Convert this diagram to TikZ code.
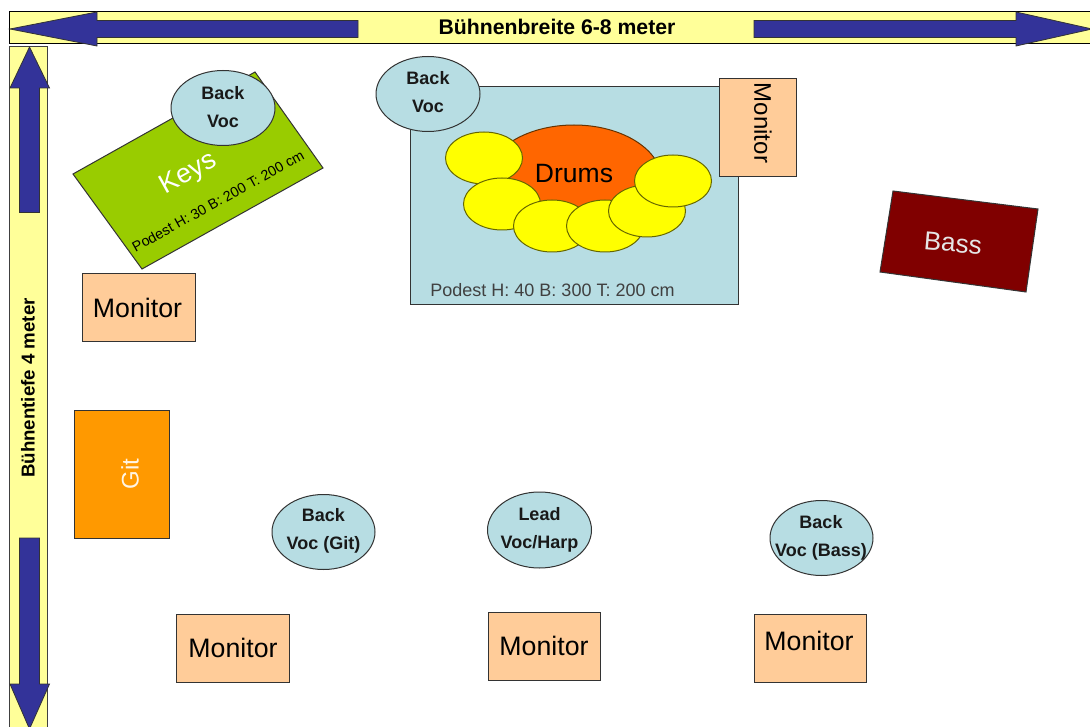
\documentclass[tikz,border=0pt]{standalone}
\usepackage{fontspec}
\setmainfont{Liberation Sans}
\definecolor{barY}{HTML}{FFFF99}
\definecolor{arrowB}{HTML}{333399}
\definecolor{voc}{HTML}{B7DDE3}
\definecolor{mon}{HTML}{FFCC99}
\definecolor{keysG}{HTML}{99CC00}
\definecolor{drumO}{HTML}{FF6600}
\definecolor{gitO}{HTML}{FF9900}
\definecolor{bassR}{HTML}{800000}
\definecolor{edgeD}{HTML}{333333}
\definecolor{cymY}{HTML}{FFFF00}
\definecolor{cymE}{HTML}{666600}
\definecolor{drumE}{HTML}{663300}
\newcommand{\fs}[1]{\fontsize{#1}{#1}\selectfont}
\tikzset{
  x=1pt,y=-1pt,
  barbox/.style={draw=black,fill=barY,line width=1pt},
  arr/.style={draw=edgeD,fill=arrowB,line width=0.8pt},
  outline/.style={draw=edgeD,line width=1pt},
  monbox/.style={outline,fill=mon,rectangle,inner sep=0pt},
  montxt/.style={inner sep=0pt,font=\fs{26.7}},
  vocell/.style={outline,fill=voc,ellipse,inner sep=0pt},
  voctxt/.style={inner sep=0pt,align=center,font=\fs{18}\bfseries,text=black!90},
  cym/.style={draw=cymE,line width=1pt,fill=cymY,ellipse,minimum width=77pt,minimum height=52pt,inner sep=0pt},
  lbl/.style={inner sep=0pt},
}
\usetikzlibrary{shapes.geometric}
\begin{document}
\begin{tikzpicture}
\useasboundingbox (0,0) rectangle (1090,727);
\fill[white] (0,0) rectangle (1090,727);
% bars
\draw[barbox] (9.5,12) rectangle (1091,44);
\draw[barbox,draw=black!75] (9.5,46.5) rectangle (47,728);
% top arrows
\draw[arr] (10,29) -- (97,12) -- (97,20.5) -- (358,20.5) -- (358,37.5) -- (97,37.5) -- (97,46) -- cycle;
\draw[arr] (1092,29) -- (1016,12) -- (1016,20.5) -- (754,20.5) -- (754,37.5) -- (1016,37.5) -- (1016,46) -- cycle;
% side arrows
\draw[arr] (29.5,47) -- (49.5,88) -- (39.5,88) -- (39.5,212.5) -- (19.5,212.5) -- (19.5,88) -- (10,88) -- cycle;
\draw[arr] (29.5,729) -- (49.5,684) -- (39.5,684) -- (39.5,538) -- (19.5,538) -- (19.5,684) -- (10,684) -- cycle;
\node[lbl,font=\fs{21.2}\bfseries] (breite) at (557,27) {Bühnenbreite 6-8 meter};
\node[lbl,font=\fs{18.7}\bfseries,rotate=90] (tiefe) at (28,388) {Bühnentiefe 4 meter};
% keys
\draw[outline,fill=keysG] (255,72) -- (323,168) -- (142,269) -- (73,174) -- cycle;
\node[lbl,font=\fs{27},text=white,rotate=29] (keys) at (189,174) {Keys};
\node[lbl,font=\fs{14.3},rotate=29] (podK) at (218,201) {Podest H: 30 B: 200 T: 200 cm};
\node[vocell,minimum width=104pt,minimum height=75pt] (bv1) at (223,108) {};
\node[voctxt] (bv1t) at (223,107) {Back\\[10pt]Voc};
% drums
\draw[outline,fill=voc] (410.5,86.5) rectangle (738,305);
\node[vocell,minimum width=104pt,minimum height=75pt] (bv2) at (428,94) {};
\node[voctxt] (bv2t) at (428,92) {Back\\[10pt]Voc};
\node[monbox,minimum width=77pt,minimum height=98pt] (m1) at (757.5,128) {};
\node[lbl,font=\fs{24},rotate=-90] (m1t) at (763,123) {Monitor};
\node[ellipse,draw=drumE,line width=1pt,fill=drumO,minimum width=176pt,minimum height=112pt,inner sep=0pt] (drumshell) at (574,181) {};
\node[lbl,font=\fs{26.5}] (drums) at (574,174) {Drums};
\node[cym] (c1) at (484,158) {};
\node[cym] (c2) at (502,204) {};
\node[cym] (c3) at (552,226) {};
\node[cym] (c4) at (605,226) {};
\node[cym] (c5) at (647,211) {};
\node[cym] (c6) at (673,181) {};
\node[lbl,font=\fs{18},text=black!75] (podD) at (552.5,290.5) {Podest H: 40 B: 300 T: 200 cm};
% bass
\draw[outline,fill=bassR] (893,191) -- (1038,209) -- (1026,292) -- (880,272) -- cycle;
\node[lbl,font=\fs{26},text=white!90!black,rotate=-5] (bass) at (953,243) {Bass};
% monitors
\node[monbox,minimum width=113pt,minimum height=68pt] (m2) at (139,308) {};
\node[montxt] (m2t) at (137.5,308) {Monitor};
\node[monbox,minimum width=113pt,minimum height=68pt] (m3) at (233,648) {};
\node[montxt] (m3t) at (233,648) {Monitor};
\node[monbox,minimum width=112pt,minimum height=68pt] (m4) at (544,646) {};
\node[montxt] (m4t) at (544,646) {Monitor};
\node[monbox,minimum width=112pt,minimum height=68pt] (m5) at (810,648) {};
\node[montxt] (m5t) at (809,641) {Monitor};
% git
\node[outline,fill=gitO,rectangle,inner sep=0pt,minimum width=95pt,minimum height=128pt] (git) at (121.5,474) {};
\node[lbl,font=\fs{24},text=white!90!gitO,rotate=90] (gitt) at (130,474) {Git};
% vocals
\node[vocell,minimum width=103pt,minimum height=75pt] (bv3) at (323.5,532) {};
\node[voctxt] (bv3t) at (323.5,531) {Back\\[10pt]Voc (Git)};
\node[vocell,minimum width=104pt,minimum height=76pt] (lv) at (539.5,530) {};
\node[voctxt] (lvt) at (539.5,530) {Lead\\[10pt]Voc/Harp};
\node[vocell,minimum width=103pt,minimum height=75pt] (bv4) at (821.5,538) {};
\node[voctxt] (bv4t) at (821,538) {Back\\[10pt]Voc (Bass)};
\end{tikzpicture}
\end{document}
